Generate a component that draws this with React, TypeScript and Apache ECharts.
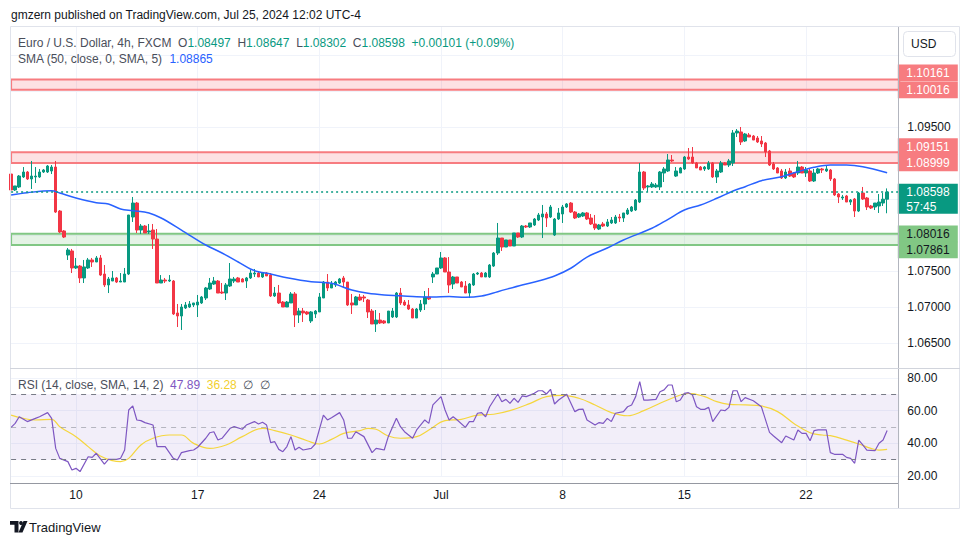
import React, { useEffect, useRef } from "react";
import * as echarts from "echarts";

// ---------- data ----------
// EUR/USD 4h candles: [open, high, low, close]
const candles: number[][] = [
  [1.08847, 1.08917, 1.08611, 1.08625], [1.08625, 1.08681, 1.08611, 1.08681], [1.08667, 1.08833, 1.08653, 1.08819], [1.08806, 1.08944, 1.08792, 1.08875], [1.08875, 1.08889, 1.08764, 1.08778],
  [1.08778, 1.09028, 1.08639, 1.08819], [1.08806, 1.08944, 1.08722, 1.08819], [1.08806, 1.08917, 1.08792, 1.08875], [1.08875, 1.08917, 1.08861, 1.08903], [1.08875, 1.08972, 1.08861, 1.08958],
  [1.08889, 1.08972, 1.08847, 1.08944], [1.08944, 1.09028, 1.08306, 1.08319], [1.08333, 1.08347, 1.08028, 1.08042], [1.08056, 1.08069, 1.07958, 1.07972], [1.07722, 1.07819, 1.07653, 1.07792],
  [1.07778, 1.07806, 1.07472, 1.07542], [1.07542, 1.07681, 1.07528, 1.07569], [1.07569, 1.07583, 1.07333, 1.07403], [1.07403, 1.07653, 1.07333, 1.07556], [1.07542, 1.07681, 1.07528, 1.07653],
  [1.07653, 1.07681, 1.07556, 1.07625], [1.07625, 1.07708, 1.07625, 1.07681], [1.07681, 1.07722, 1.07431, 1.07444], [1.07458, 1.07583, 1.07278, 1.07306], [1.07306, 1.07417, 1.07194, 1.07389],
  [1.07361, 1.07500, 1.07361, 1.07403], [1.07403, 1.07417, 1.07333, 1.07347], [1.07347, 1.07472, 1.07347, 1.07361], [1.07347, 1.07542, 1.07347, 1.07458], [1.07458, 1.08278, 1.07444, 1.08278],
  [1.08250, 1.08528, 1.08181, 1.08444], [1.08444, 1.08458, 1.08028, 1.08069], [1.08069, 1.08153, 1.08014, 1.08125], [1.08125, 1.08139, 1.08028, 1.08028], [1.08042, 1.08153, 1.08014, 1.08056],
  [1.08069, 1.08153, 1.07806, 1.07944], [1.07944, 1.08083, 1.07333, 1.07333], [1.07333, 1.07444, 1.07333, 1.07375], [1.07375, 1.07403, 1.07333, 1.07361], [1.07361, 1.07444, 1.07347, 1.07375],
  [1.07361, 1.07375, 1.06889, 1.06903], [1.06917, 1.07042, 1.06722, 1.06875], [1.06875, 1.07042, 1.06681, 1.07000], [1.06986, 1.07069, 1.06972, 1.07028], [1.07000, 1.07083, 1.06986, 1.07042],
  [1.07028, 1.07056, 1.07000, 1.07056], [1.07028, 1.07167, 1.06861, 1.07069], [1.07056, 1.07153, 1.07042, 1.07139], [1.07125, 1.07278, 1.07097, 1.07264], [1.07250, 1.07403, 1.07236, 1.07333],
  [1.07319, 1.07417, 1.07306, 1.07361], [1.07361, 1.07375, 1.07194, 1.07194], [1.07208, 1.07333, 1.07181, 1.07194], [1.07194, 1.07333, 1.07097, 1.07306], [1.07292, 1.07611, 1.07278, 1.07389],
  [1.07361, 1.07417, 1.07333, 1.07389], [1.07403, 1.07417, 1.07347, 1.07347], [1.07389, 1.07403, 1.07347, 1.07347], [1.07361, 1.07417, 1.07264, 1.07403], [1.07403, 1.07514, 1.07389, 1.07472],
  [1.07458, 1.07528, 1.07417, 1.07472], [1.07472, 1.07486, 1.07417, 1.07417], [1.07417, 1.07486, 1.07403, 1.07472], [1.07472, 1.07486, 1.07431, 1.07431], [1.07444, 1.07472, 1.07139, 1.07153],
  [1.07153, 1.07278, 1.07139, 1.07194], [1.07194, 1.07306, 1.07042, 1.07056], [1.07069, 1.07083, 1.07000, 1.07000], [1.07000, 1.07083, 1.07000, 1.07069], [1.07056, 1.07208, 1.07056, 1.07181],
  [1.07181, 1.07208, 1.06722, 1.06889], [1.06889, 1.06986, 1.06778, 1.06944], [1.06944, 1.06986, 1.06792, 1.06917], [1.06931, 1.06944, 1.06889, 1.06903], [1.06806, 1.06944, 1.06778, 1.06931],
  [1.06903, 1.06958, 1.06847, 1.06944], [1.06931, 1.07194, 1.06931, 1.07139], [1.07125, 1.07361, 1.07125, 1.07347], [1.07347, 1.07458, 1.07222, 1.07264], [1.07264, 1.07361, 1.07264, 1.07319],
  [1.07306, 1.07361, 1.07278, 1.07347], [1.07333, 1.07403, 1.07319, 1.07389], [1.07403, 1.07431, 1.07264, 1.07347], [1.07347, 1.07347, 1.07014, 1.07028], [1.07056, 1.07181, 1.06903, 1.07028],
  [1.07028, 1.07153, 1.07028, 1.07139], [1.07139, 1.07181, 1.07083, 1.07097], [1.07139, 1.07167, 1.07069, 1.07125], [1.07097, 1.07111, 1.06847, 1.06931], [1.06944, 1.06972, 1.06764, 1.06764],
  [1.06764, 1.06958, 1.06653, 1.06819], [1.06819, 1.06917, 1.06764, 1.06778], [1.06806, 1.06819, 1.06764, 1.06778], [1.06778, 1.06944, 1.06778, 1.06944], [1.06861, 1.06986, 1.06847, 1.06944],
  [1.06861, 1.07208, 1.06847, 1.07194], [1.07194, 1.07264, 1.07028, 1.07056], [1.07069, 1.07097, 1.07014, 1.07028], [1.07028, 1.07097, 1.06958, 1.06972], [1.06972, 1.06986, 1.06847, 1.06847],
  [1.06847, 1.06986, 1.06847, 1.06972], [1.06958, 1.07097, 1.06931, 1.07042], [1.07042, 1.07222, 1.06958, 1.07139], [1.07139, 1.07264, 1.07097, 1.07111], [1.07417, 1.07486, 1.07333, 1.07458],
  [1.07458, 1.07542, 1.07458, 1.07542], [1.07542, 1.07764, 1.07528, 1.07681], [1.07681, 1.07694, 1.07486, 1.07486], [1.07486, 1.07694, 1.07194, 1.07306], [1.07319, 1.07431, 1.07250, 1.07417],
  [1.07417, 1.07417, 1.07333, 1.07333], [1.07347, 1.07361, 1.07278, 1.07278], [1.07292, 1.07361, 1.07194, 1.07194], [1.07194, 1.07333, 1.07125, 1.07319], [1.07306, 1.07472, 1.07292, 1.07458],
  [1.07458, 1.07486, 1.07444, 1.07472], [1.07472, 1.07486, 1.07417, 1.07417], [1.07417, 1.07486, 1.07417, 1.07472], [1.07417, 1.07597, 1.07403, 1.07583], [1.07569, 1.07764, 1.07556, 1.07750],
  [1.07750, 1.08167, 1.07722, 1.07958], [1.07958, 1.07958, 1.07778, 1.07833], [1.07833, 1.07931, 1.07833, 1.07931], [1.07931, 1.07931, 1.07847, 1.07847], [1.07847, 1.08028, 1.07847, 1.08028],
  [1.08028, 1.08028, 1.07958, 1.07972], [1.07972, 1.08139, 1.07958, 1.08125], [1.08125, 1.08139, 1.08097, 1.08111], [1.08111, 1.08167, 1.08097, 1.08167], [1.08139, 1.08236, 1.08125, 1.08222],
  [1.08208, 1.08306, 1.08194, 1.08278], [1.08250, 1.08417, 1.07958, 1.08292], [1.08292, 1.08319, 1.08111, 1.08236], [1.08250, 1.08417, 1.08236, 1.08389], [1.08000, 1.08236, 1.07986, 1.08222],
  [1.08222, 1.08375, 1.08208, 1.08306], [1.08292, 1.08417, 1.08167, 1.08389], [1.08389, 1.08444, 1.08375, 1.08431], [1.08444, 1.08458, 1.08306, 1.08319], [1.08319, 1.08333, 1.08222, 1.08236],
  [1.08250, 1.08306, 1.08236, 1.08292], [1.08264, 1.08319, 1.08250, 1.08306], [1.08306, 1.08319, 1.08208, 1.08222], [1.08236, 1.08292, 1.08139, 1.08153], [1.08153, 1.08278, 1.08069, 1.08097],
  [1.08083, 1.08153, 1.08069, 1.08139], [1.08153, 1.08181, 1.08111, 1.08125], [1.08125, 1.08222, 1.08111, 1.08181], [1.08167, 1.08250, 1.08153, 1.08208], [1.08167, 1.08278, 1.08153, 1.08250],
  [1.08250, 1.08292, 1.08181, 1.08236], [1.08236, 1.08306, 1.08181, 1.08306], [1.08292, 1.08375, 1.08278, 1.08347], [1.08333, 1.08403, 1.08319, 1.08389], [1.08347, 1.08500, 1.08333, 1.08486],
  [1.08458, 1.09000, 1.08444, 1.08875], [1.08875, 1.08889, 1.08625, 1.08653], [1.08667, 1.08694, 1.08597, 1.08681], [1.08667, 1.08736, 1.08653, 1.08708], [1.08667, 1.08722, 1.08653, 1.08694],
  [1.08667, 1.08889, 1.08625, 1.08875], [1.08861, 1.08944, 1.08736, 1.08917], [1.08889, 1.09125, 1.08875, 1.09042], [1.09042, 1.09111, 1.09014, 1.09028], [1.08819, 1.08944, 1.08806, 1.08889],
  [1.08861, 1.08944, 1.08861, 1.08931], [1.08917, 1.09097, 1.08903, 1.09083], [1.09083, 1.09208, 1.09042, 1.09056], [1.09083, 1.09222, 1.08986, 1.09000], [1.09000, 1.09014, 1.08931, 1.08931],
  [1.08944, 1.08958, 1.08903, 1.08903], [1.08917, 1.08958, 1.08889, 1.08944], [1.08917, 1.09028, 1.08903, 1.09000], [1.09000, 1.09014, 1.08792, 1.08806], [1.08806, 1.08917, 1.08722, 1.08889],
  [1.08875, 1.09028, 1.08861, 1.09000], [1.09000, 1.09014, 1.08972, 1.08972], [1.08972, 1.09056, 1.08944, 1.09028], [1.09000, 1.09458, 1.08958, 1.09417], [1.09417, 1.09472, 1.09361, 1.09444],
  [1.09431, 1.09500, 1.09250, 1.09292], [1.09306, 1.09417, 1.09292, 1.09403], [1.09389, 1.09417, 1.09361, 1.09361], [1.09375, 1.09389, 1.09319, 1.09319], [1.09347, 1.09375, 1.09278, 1.09292],
  [1.09306, 1.09375, 1.09222, 1.09264], [1.09278, 1.09292, 1.09083, 1.09153], [1.09167, 1.09181, 1.08958, 1.08972], [1.08986, 1.09014, 1.08903, 1.08917], [1.08931, 1.08944, 1.08861, 1.08861],
  [1.08889, 1.08917, 1.08778, 1.08792], [1.08792, 1.08917, 1.08778, 1.08875], [1.08889, 1.08931, 1.08806, 1.08819], [1.08861, 1.08875, 1.08792, 1.08806], [1.08861, 1.09028, 1.08833, 1.08944],
  [1.08944, 1.08958, 1.08861, 1.08861], [1.08861, 1.08944, 1.08806, 1.08903], [1.08889, 1.08917, 1.08736, 1.08750], [1.08750, 1.08917, 1.08736, 1.08861], [1.08861, 1.08931, 1.08847, 1.08917],
  [1.08917, 1.08931, 1.08861, 1.08903], [1.08889, 1.08972, 1.08875, 1.08917], [1.08903, 1.08917, 1.08750, 1.08778], [1.08778, 1.08792, 1.08542, 1.08556], [1.08569, 1.08583, 1.08444, 1.08528],
  [1.08514, 1.08556, 1.08486, 1.08528], [1.08542, 1.08556, 1.08458, 1.08458], [1.08458, 1.08500, 1.08417, 1.08486], [1.08500, 1.08514, 1.08250, 1.08333], [1.08333, 1.08597, 1.08319, 1.08583],
  [1.08583, 1.08667, 1.08486, 1.08500], [1.08514, 1.08528, 1.08347, 1.08389], [1.08403, 1.08417, 1.08361, 1.08375], [1.08389, 1.08444, 1.08347, 1.08444], [1.08403, 1.08569, 1.08306, 1.08458],
  [1.08444, 1.08583, 1.08403, 1.08497], [1.08497, 1.08647, 1.08302, 1.08598],
];

// SMA(50): [bar index, price]
const smaPoints: number[][] = [
  [0, 1.08556], [4, 1.08588], [10, 1.08615], [12, 1.08583], [16, 1.08514], [21, 1.08449], [24, 1.08431], [27, 1.08361],
  [30, 1.08338], [34, 1.08306], [37, 1.08236], [42, 1.08069], [48, 1.07861], [52, 1.0775], [56, 1.07625], [59, 1.07528],
  [61, 1.0749], [64, 1.07458], [68, 1.07407], [74, 1.07351], [79, 1.07329], [84, 1.07236], [88, 1.0719], [92, 1.07167],
  [96, 1.07157], [100, 1.07143], [104, 1.07139], [108, 1.07146], [112, 1.07135], [116, 1.07153], [120, 1.07213], [126, 1.07306],
  [130, 1.07361], [134, 1.07431], [138, 1.07538], [142, 1.07694], [147, 1.07819], [151, 1.07931], [158, 1.08093], [162, 1.08218],
  [166, 1.08347], [170, 1.08417], [174, 1.0851], [178, 1.08611], [181, 1.08671], [185, 1.08754], [190, 1.0881], [194, 1.08879],
  [198, 1.0894], [202, 1.08972], [206, 1.08972], [210, 1.08949], [216, 1.08865],
];

// RSI(14) [bar index, value]
const rsiPoints: number[][] = [
  [0, 49.8], [1, 52.2], [2, 56.3], [4, 53.3], [6, 55.3], [7, 56.3], [9, 58.8], [10, 55.3], [11, 36.9], [12, 30.8], [14, 28.8], [15, 23.7],
  [16, 24.7], [17, 22.7], [19, 31.8], [20, 31.4], [21, 33.9], [23, 27.3], [24, 30.2], [26, 30.2], [27, 30.8], [28, 35.9], [29, 60.4], [30, 62.9],
  [31, 54.3], [32, 53.9], [33, 52.7], [35, 51.2], [36, 38.0], [38, 38.0], [40, 30.8], [41, 29.8], [42, 34.3], [44, 35.5], [45, 35.9], [46, 37.6],
  [48, 43.1], [49, 46.5], [50, 47.1], [51, 42.0], [52, 43.1], [54, 49.2], [55, 50.2], [57, 48.6], [58, 51.2], [60, 53.3], [61, 51.8], [62, 52.9],
  [63, 51.2], [64, 40.4], [65, 41.0], [66, 36.3], [67, 34.9], [68, 38.0], [69, 44.1], [70, 35.9], [71, 37.6], [72, 35.9], [74, 36.9], [75, 39.6],
  [77, 57.3], [78, 54.3], [79, 55.7], [81, 58.8], [82, 54.3], [83, 43.1], [84, 43.1], [85, 47.1], [87, 44.1], [89, 34.3], [90, 36.9], [91, 36.5],
  [92, 35.9], [93, 44.1], [95, 55.3], [96, 50.2], [97, 47.1], [99, 43.1], [100, 48.2], [102, 54.3], [103, 52.2], [104, 63.5], [106, 68.6], [107, 60.4],
  [108, 54.3], [109, 56.3], [110, 54.3], [112, 49.8], [113, 53.3], [114, 53.3], [115, 58.4], [116, 58.8], [117, 56.3], [118, 62.4], [120, 70.2], [121, 65.5],
  [122, 66.9], [123, 64.5], [124, 67.6], [125, 65.1], [126, 69.0], [127, 68.6], [129, 70.6], [130, 72.2], [131, 72.2], [132, 70.2], [133, 73.1], [134, 64.1],
  [135, 66.5], [137, 70.0], [139, 59.4], [140, 60.8], [141, 61.0], [142, 54.3], [144, 51.2], [145, 52.7], [146, 52.2], [147, 55.3], [148, 53.3], [149, 58.4],
  [151, 59.4], [152, 62.4], [153, 63.5], [154, 68.6], [155, 77.8], [156, 66.5], [157, 66.5], [159, 66.9], [160, 71.6], [161, 72.7], [162, 75.7], [163, 75.7],
  [164, 65.5], [165, 66.5], [166, 70.6], [167, 71.0], [168, 69.6], [169, 62.4], [170, 60.8], [171, 60.8], [172, 62.0], [173, 53.3], [175, 60.4], [176, 60.0],
  [177, 62.0], [178, 72.2], [179, 72.2], [180, 65.5], [181, 68.0], [183, 66.1], [185, 62.4], [187, 46.7], [188, 44.5], [190, 40.4], [191, 44.5], [193, 42.0],
  [194, 48.2], [195, 46.1], [196, 46.1], [197, 41.6], [198, 47.8], [199, 48.2], [201, 48.2], [202, 34.3], [203, 33.3], [205, 33.3], [206, 31.4], [207, 30.8],
  [208, 27.8], [209, 42.0], [210, 39.0], [211, 35.9], [213, 35.5], [214, 40.0], [215, 42.0], [216, 47.89],
];

// RSI-based SMA(14) [bar index, value]
const rsiSmaPoints: number[][] = [
  [0, 57.3], [3, 55.3], [6, 54.3], [10, 54.7], [12, 50.2], [16, 44.1], [19, 38.0], [22, 32.2], [25, 29.4], [27, 28.8], [29, 30.8], [32, 39.0],
  [35, 43.1], [39, 45.1], [42, 45.1], [45, 40.0], [49, 36.9], [53, 39.0], [57, 44.1], [62, 49.2], [65, 47.8], [69, 45.1], [73, 41.6], [76, 39.6],
  [79, 42.4], [82, 46.1], [86, 47.8], [88, 49.2], [90, 48.6], [93, 44.5], [96, 43.1], [100, 44.1], [103, 48.2], [107, 53.9], [111, 54.7], [115, 57.3],
  [119, 57.8], [123, 60.0], [128, 64.5], [132, 68.6], [136, 69.4], [140, 67.6], [144, 63.5], [148, 58.8], [152, 56.9], [156, 60.0], [160, 64.5], [165, 69.6],
  [167, 70.6], [171, 68.6], [174, 65.5], [177, 63.9], [181, 63.5], [185, 62.9], [189, 59.4], [193, 52.2], [197, 46.5], [200, 45.1], [202, 44.7], [206, 42.0],
  [209, 39.6], [212, 36.9], [214, 35.9], [216, 36.28],
];

// horizontal zones [low, high]
const redZones: number[][] = [[1.10016, 1.10161], [1.08999, 1.09151]];
const greenZones: number[][] = [[1.07861, 1.08016]];

// price-scale tags
const tagPrices = [1.10161, 1.10016, 1.09151, 1.08999, 1.08598, 1.08016, 1.07861];
const tagKinds = ["red", "red", "red", "red", "last", "green", "green"];
const countdown = "57:45";

// axis tick labels
const priceTickLabels = [1.065, 1.07, 1.075, 1.095];
const weekStarts = [16, 46, 76, 106, 136, 166, 196];
const weekLabels = ["10", "17", "24", "Jul", "8", "15", "22"];
const categories = Array.from({ length: candles.length + 3 }, (_, i) => String(i));

// ---------- styling ----------
const UP = "#089981";
const DOWN = "#F23645";
const FONT = '"Liberation Sans", Arial, sans-serif';
const TXT = "#131722";
const tagNudge = [-6.5, 0, -5.5, 0, 0, 0, 5];

function buildOption(): any {
  const last = candles[candles.length - 1];
  const prevClose = candles[candles.length - 2][3];
  const chg = last[3] - prevClose;
  const chgPct = (chg / prevClose) * 100;
  const sign = chg >= 0 ? "+" : "";
  const smaLast = smaPoints[smaPoints.length - 1][1];
  const rsiLast = rsiPoints[rsiPoints.length - 1][1];
  const rsiSmaLast = rsiSmaPoints[rsiSmaPoints.length - 1][1];

  const zoneData = [
    ...redZones.map((z) => [
      { yAxis: z[0], itemStyle: { color: "rgba(242,54,69,0.15)", borderColor: "#F77C80", borderWidth: 2 } },
      { yAxis: z[1] },
    ]),
    ...greenZones.map((z) => [
      { yAxis: z[0], itemStyle: { color: "rgba(76,175,80,0.15)", borderColor: "#81C784", borderWidth: 2 } },
      { yAxis: z[1] },
    ]),
  ];

  const xBase = {
    type: "category",
    data: categories,
    boundaryGap: false,
    axisLine: { show: false },
    axisTick: { show: false },
    splitLine: {
      show: true,
      interval: (i: number) => weekStarts.includes(i),
      lineStyle: { color: "#f0f3fa", width: 1 },
    },
  };

  return {
    animation: false,
    backgroundColor: "#ffffff",
    grid: [
      { left: 11.1, width: 888.2, top: 19, height: 360 },
      { left: 11.1, width: 888.2, top: 378, height: 98 },
    ],
    xAxis: [
      { ...xBase, gridIndex: 0, axisLabel: { show: false } },
      {
        ...xBase,
        gridIndex: 1,
        axisLabel: {
          show: true,
          interval: (i: number) => weekStarts.includes(i),
          formatter: (v: string) => {
            const k = weekStarts.indexOf(Number(v));
            return k >= 0 ? weekLabels[k] : "";
          },
          color: TXT,
          fontSize: 12,
          fontFamily: FONT,
          margin: 13,
        },
      },
    ],
    yAxis: [
      {
        type: "value",
        gridIndex: 0,
        position: "right",
        min: 1.06,
        max: 1.11,
        interval: 0.005,
        axisLine: { show: false },
        axisTick: { show: false },
        axisLabel: {
          margin: 8,
          color: TXT,
          fontSize: 12,
          fontFamily: FONT,
          formatter: (v: number) =>
            priceTickLabels.some((t) => Math.abs(t - v) < 1e-7) ? v.toFixed(5) : "",
        },
        splitLine: { show: true, showMinLine: false, showMaxLine: false, lineStyle: { color: "#f0f3fa" } },
      },
      {
        type: "value",
        gridIndex: 1,
        position: "right",
        min: 20,
        max: 80,
        interval: 20,
        axisLine: { show: false },
        axisTick: { show: false },
        axisLabel: { margin: 8, color: TXT, fontSize: 12, fontFamily: FONT, formatter: (v: number) => v.toFixed(2) },
        splitLine: { show: true, lineStyle: { color: "#f0f3fa" } },
      },
    ],
    series: [
      {
        type: "candlestick",
        name: "EURUSD",
        xAxisIndex: 0,
        yAxisIndex: 0,
        silent: true,
        clip: false,
        barWidth: 3,
        data: candles.map((c) => [c[0], c[3], c[2], c[1]]),
        itemStyle: { color: UP, color0: DOWN, borderColor: UP, borderColor0: DOWN, borderWidth: 1 },
        markArea: { silent: true, data: zoneData },
        z: 3,
      },
      {
        type: "line",
        name: "SMA",
        xAxisIndex: 0,
        yAxisIndex: 0,
        data: smaPoints,
        smooth: 0.35,
        showSymbol: false,
        silent: true,
        lineStyle: { color: "#2962FF", width: 1.5 },
        markLine: {
          silent: true,
          precision: 5,
          symbol: ["none", "none"],
          label: { show: false },
          lineStyle: { color: UP, type: [2, 3], width: 1.5 },
          data: [{ yAxis: last[3] }],
        },
        z: 4,
      },
      {
        type: "custom",
        name: "tags",
        xAxisIndex: 0,
        yAxisIndex: 0,
        clip: false,
        silent: true,
        z: 20,
        data: tagPrices.map((p, i) => [0, p, i]),
        encode: { x: 0, y: 1 },
        renderItem: (params: any, api: any) => {
          const i = api.value(2);
          const price = api.value(1);
          const cs = params.coordSys;
          const y = api.coord([0, price])[1] + tagNudge[i];
          const x0 = cs.x + cs.width - 1.5;
          const kind = tagKinds[i];
          const bg = kind === "red" ? "#F77C80" : kind === "green" ? "#81C784" : UP;
          const fg = kind === "green" ? TXT : "#ffffff";
          const h = 16.6;
          const extra = kind === "last" ? 13.5 : 0;
          const children: any[] = [
            { type: "rect", shape: { x: x0, y: y - h / 2, width: 60, height: h + extra }, style: { fill: bg } },
            {
              type: "text",
              x: x0 + 8.5,
              y: y,
              style: { text: price.toFixed(5), fill: fg, fontSize: 12, fontFamily: FONT, verticalAlign: "middle", align: "left" },
            },
          ];
          if (kind === "last") {
            children.push({
              type: "text",
              x: x0 + 8.5,
              y: y + 15,
              style: { text: countdown, fill: fg, fontSize: 12, fontFamily: FONT, verticalAlign: "middle", align: "left" },
            });
          }
          return { type: "group", children };
        },
      },
      {
        type: "line",
        name: "RSI",
        xAxisIndex: 1,
        yAxisIndex: 1,
        data: rsiPoints,
        showSymbol: false,
        silent: true,
        lineStyle: { color: "#7E57C2", width: 1.2 },
        markArea: {
          silent: true,
          itemStyle: { color: "rgba(126,87,194,0.1)" },
          data: [[{ yAxis: 30 }, { yAxis: 70 }]],
        },
        markLine: {
          silent: true,
          symbol: ["none", "none"],
          label: { show: false },
          lineStyle: { color: "#787B86", type: [5, 5], width: 1 },
          data: [{ yAxis: 70 }, { yAxis: 50, lineStyle: { color: "rgba(120,123,134,0.5)" } }, { yAxis: 30 }],
        },
        z: 4,
      },
      {
        type: "line",
        name: "RSI SMA",
        xAxisIndex: 1,
        yAxisIndex: 1,
        data: rsiSmaPoints,
        smooth: 0.4,
        showSymbol: false,
        silent: true,
        lineStyle: { color: "#F5D63D", width: 1.2 },
        z: 3,
      },
    ],
    graphic: [
      { type: "rect", z: 50, silent: true, shape: { x: 0, y: 0, width: 970, height: 26 }, style: { fill: "#ffffff" } },
      {
        type: "text",
        z: 51,
        x: 11,
        y: 15,
        style: {
          text: "gmzern published on TradingView.com, Jul 25, 2024 12:02 UTC-4",
          fill: TXT,
          fontSize: 12,
          fontFamily: FONT,
          verticalAlign: "middle",
        },
      },
      { type: "rect", z: 60, silent: true, shape: { x: 10.5, y: 26.5, width: 949, height: 482 }, style: { fill: "none", stroke: "#e0e3eb", lineWidth: 1 } },
      { type: "line", z: 60, silent: true, shape: { x1: 898.5, y1: 27, x2: 898.5, y2: 508 }, style: { stroke: "#b2b5be", lineWidth: 1 } },
      { type: "line", z: 60, silent: true, shape: { x1: 10, y1: 368.5, x2: 960, y2: 368.5 }, style: { stroke: "#d1d4dc", lineWidth: 1 } },
      { type: "line", z: 60, silent: true, shape: { x1: 10, y1: 483.5, x2: 898, y2: 483.5 }, style: { stroke: "#9598a1", lineWidth: 1 } },
      {
        type: "text",
        z: 61,
        x: 18,
        y: 42.5,
        style: {
          text:
            "{g|Euro / U.S. Dollar, 4h, FXCM}  {g|O}{v|" + last[0].toFixed(5) + "}  {g|H}{v|" + last[1].toFixed(5) +
            "}  {g|L}{v|" + last[2].toFixed(5) + "}  {g|C}{v|" + last[3].toFixed(5) + "}  {v|" + sign + chg.toFixed(5) +
            " (" + sign + chgPct.toFixed(2) + "%)}",
          verticalAlign: "middle",
          fontSize: 12,
          fontFamily: FONT,
          rich: {
            g: { fill: "#4a4e5a", fontSize: 12, fontFamily: FONT },
            v: { fill: UP, fontSize: 12, fontFamily: FONT },
          },
        },
      },
      {
        type: "text",
        z: 61,
        x: 18,
        y: 59,
        style: {
          text: "{g|SMA (50, close, 0, SMA, 5)}  {b|" + smaLast.toFixed(5) + "}",
          verticalAlign: "middle",
          fontSize: 12,
          fontFamily: FONT,
          rich: {
            g: { fill: "#4a4e5a", fontSize: 12, fontFamily: FONT },
            b: { fill: "#2962FF", fontSize: 12, fontFamily: FONT },
          },
        },
      },
      {
        type: "text",
        z: 61,
        x: 18,
        y: 385,
        style: {
          text:
            "{g|RSI (14, close, SMA, 14, 2)}  {p|" + rsiLast.toFixed(2) + "}  {y|" + rsiSmaLast.toFixed(2) + "}  {g|\u2205  \u2205}",
          verticalAlign: "middle",
          fontSize: 12,
          fontFamily: FONT,
          rich: {
            g: { fill: "#4a4e5a", fontSize: 12, fontFamily: FONT },
            p: { fill: "#7E57C2", fontSize: 12, fontFamily: FONT },
            y: { fill: "#F2CF2E", fontSize: 12, fontFamily: FONT },
          },
        },
      },
      {
        type: "rect",
        z: 61,
        silent: true,
        shape: { x: 903.5, y: 31.5, width: 52, height: 25, r: 4 },
        style: { fill: "#ffffff", stroke: "#e0e3eb", lineWidth: 1 },
      },
      { type: "text", z: 62, x: 911, y: 44, style: { text: "USD", fill: TXT, fontSize: 12, fontFamily: FONT, verticalAlign: "middle" } },
      // TradingView logo
      { type: "polygon", z: 61, silent: true, shape: { points: [[10, 521], [18.5, 521], [18.5, 532.5], [14.5, 532.5], [14.5, 524.8], [10, 524.8]] }, style: { fill: "#131722" } },
      { type: "circle", z: 61, silent: true, shape: { cx: 21, cy: 523, r: 1.9 }, style: { fill: "#131722" } },
      { type: "polygon", z: 61, silent: true, shape: { points: [[23.5, 521], [27.5, 521], [22.5, 532.5], [18.5, 532.5]] }, style: { fill: "#131722" } },
      { type: "text", z: 61, x: 29, y: 527, style: { text: "TradingView", fill: "#131722", fontSize: 13, fontFamily: FONT, verticalAlign: "middle" } },
    ],
  };
}

export default function App() {
  const ref = useRef<HTMLDivElement>(null);
  useEffect(() => {
    if (!ref.current) return;
    const chart = echarts.init(ref.current, null, { renderer: "svg" });
    chart.setOption(buildOption());
    return () => chart.dispose();
  }, []);
  return (
    <div
      ref={ref}
      style={{ position: "fixed", left: 0, top: 0, width: 970, height: 545, background: "#ffffff" }}
    />
  );
}
